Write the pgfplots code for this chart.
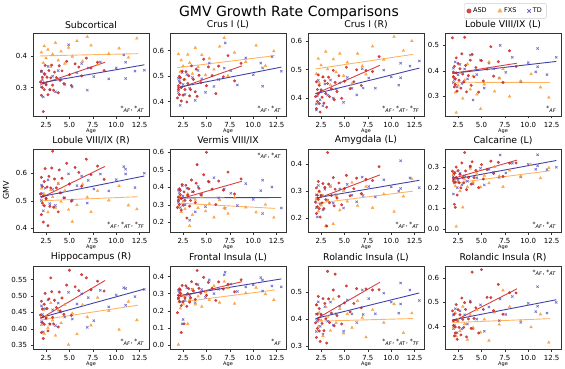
\documentclass[border=0pt]{standalone}
\usepackage{pgfplots}
\pgfplotsset{compat=1.18}
\usepackage{pgfplotstable}
\usepackage{fontspec}
\setmainfont{DejaVu Sans}

\definecolor{asd}{RGB}{200,35,35}
\definecolor{fxs}{RGB}{250,155,50}
\definecolor{td}{RGB}{90,90,195}
\definecolor{asdl}{RGB}{215,65,65}
\definecolor{fxsl}{RGB}{255,180,100}
\definecolor{tdl}{RGB}{65,65,170}

\pgfplotstableread[header=false]{
age 1.9 2.0 2.0 2.1 2.1 2.2 2.2 2.3 2.3 2.4 2.5 2.6 2.7 2.8 2.9 3.0 3.1 3.2 3.3 3.4 3.6 3.8 3.9 4.0 4.2 4.4 4.7 5.0 5.2 5.6 6.0 6.3 6.8 7.3 8.0 8.7
p1 0.318 0.276 0.352 0.300 0.333 0.225 0.315 0.344 0.294 0.370 0.309 0.333 0.278 0.354 0.294 0.331 0.371 0.308 0.292 0.349 0.332 0.284 0.369 0.323 0.353 0.313 0.383 0.341 0.307 0.375 0.365 0.337 0.393 0.362 0.380 0.354
p2 0.414 0.462 0.446 0.499 0.427 0.473 0.493 0.402 0.455 0.519 0.425 0.486 0.447 0.517 0.398 0.471 0.501 0.422 0.447 0.540 0.487 0.438 0.527 0.420 0.503 0.474 0.566 0.462 0.536 0.502 0.431 0.539 0.497 0.580 0.481 0.550
p3 0.405 0.457 0.363 0.430 0.388 0.481 0.415 0.381 0.445 0.351 0.429 0.403 0.474 0.382 0.460 0.416 0.368 0.451 0.473 0.405 0.432 0.497 0.394 0.455 0.423 0.478 0.399 0.459 0.508 0.433 0.457 0.499 0.444 0.497 0.493 0.545
p4 0.530 0.377 0.395 0.337 0.418 0.369 0.346 0.451 0.392 0.320 0.429 0.363 0.408 0.332 0.467 0.387 0.356 0.532 0.421 0.317 0.381 0.442 0.343 0.465 0.376 0.413 0.316 0.440 0.360 0.407 0.495 0.379 0.436 0.354 0.479 0.417
p5 0.525 0.450 0.585 0.492 0.552 0.423 0.518 0.570 0.482 0.617 0.508 0.550 0.410 0.589 0.480 0.547 0.619 0.680 0.477 0.579 0.547 0.460 0.612 0.529 0.582 0.511 0.636 0.561 0.499 0.621 0.603 0.553 0.651 0.595 0.626 0.578
p6 0.285 0.345 0.325 0.392 0.302 0.358 0.383 0.270 0.336 0.416 0.298 0.374 0.326 0.412 0.225 0.355 0.392 0.293 0.325 0.442 0.375 0.313 0.424 0.530 0.394 0.357 0.472 0.600 0.434 0.390 0.302 0.436 0.384 0.487 0.362 0.448
p7 0.260 0.312 0.218 0.285 0.243 0.336 0.270 0.236 0.300 0.205 0.284 0.257 0.328 0.236 0.314 0.269 0.172 0.442 0.326 0.257 0.284 0.350 0.246 0.307 0.275 0.330 0.250 0.310 0.358 0.283 0.309 0.348 0.291 0.344 0.339 0.390
p8 0.281 0.233 0.249 0.120 0.270 0.228 0.105 0.301 0.250 0.165 0.284 0.225 0.266 0.200 0.321 0.250 0.224 0.372 0.282 0.191 0.250 0.305 0.218 0.327 0.250 0.285 0.201 0.313 0.243 0.289 0.330 0.270 0.324 0.255 0.320 0.321
p9 0.442 0.389 0.484 0.419 0.461 0.371 0.438 0.475 0.414 0.508 0.433 0.462 0.394 0.491 0.415 0.555 0.513 0.435 0.415 0.487 0.465 0.406 0.512 0.455 0.494 0.444 0.533 0.578 0.441 0.528 0.516 0.565 0.555 0.519 0.545 0.515
p10 0.190 0.291 0.275 0.328 0.256 0.302 0.322 0.231 0.075 0.348 0.254 0.125 0.276 0.346 0.227 0.300 0.330 0.251 0.276 0.370 0.316 0.267 0.356 0.435 0.332 0.303 0.395 0.291 0.366 0.331 0.261 0.369 0.327 0.355 0.311 0.381
p11 0.387 0.454 0.333 0.420 0.366 0.485 0.400 0.357 0.440 0.318 0.419 0.385 0.477 0.358 0.459 0.402 0.312 0.578 0.476 0.388 0.423 0.509 0.376 0.568 0.414 0.485 0.383 0.461 0.524 0.428 0.459 0.514 0.443 0.513 0.509 0.510
p12 0.465 0.405 0.425 0.362 0.452 0.399 0.374 0.491 0.428 0.348 0.470 0.397 0.449 0.366 0.518 0.430 0.397 0.499 0.471 0.358 0.432 0.501 0.393 0.625 0.434 0.478 0.374 0.635 0.471 0.521 0.520 0.466 0.574 0.451 0.540 0.539
}\rawASD
\pgfplotstabletranspose[colnames from=0]{\tabASD}{\rawASD}

\pgfplotstableread[header=false]{
age 2.0 2.2 2.3 2.5 2.7 3.0 3.2 3.5 3.8 4.1 4.5 4.9 5.3 5.8 6.4 6.9 7.3 8.0 9.2 10.3 11.3 12.2
p1 0.411 0.378 0.431 0.393 0.420 0.366 0.405 0.441 0.386 0.414 0.376 0.426 0.398 0.447 0.383 0.460 0.433 0.373 0.407 0.424 0.395 0.455
p2 0.586 0.517 0.562 0.539 0.487 0.584 0.552 0.509 0.611 0.536 0.583 0.504 0.569 0.526 0.616 0.650 0.501 0.592 0.556 0.620 0.540 0.598
p3 0.485 0.538 0.454 0.515 0.474 0.563 0.501 0.446 0.536 0.491 0.556 0.478 0.525 0.451 0.556 0.512 0.483 0.581 0.535 0.615 0.566 0.600
p4 0.375 0.315 0.235 0.343 0.391 0.291 0.363 0.427 0.327 0.379 0.307 0.250 0.347 0.435 0.319 0.371 0.407 0.299 0.359 0.387 0.335 0.295
p5 0.545 0.485 0.524 0.504 0.459 0.540 0.514 0.475 0.563 0.497 0.537 0.468 0.425 0.485 0.560 0.513 0.460 0.536 0.502 0.554 0.484 0.470
p6 0.293 0.344 0.260 0.320 0.277 0.363 0.180 0.243 0.330 0.283 0.345 0.264 0.307 0.229 0.329 0.282 0.250 0.342 0.286 0.258 0.301 0.228
p7 0.270 0.226 0.298 0.248 0.285 0.172 0.266 0.316 0.180 0.282 0.230 0.301 0.263 0.332 0.247 0.288 0.317 0.239 0.289 0.225 0.281 0.345
p8 0.267 0.208 0.012 0.228 0.184 0.105 0.241 0.204 0.293 0.228 0.270 0.203 0.260 0.223 0.302 0.257 0.205 0.285 0.256 0.313 0.247 0.297
p9 0.412 0.458 0.386 0.438 0.403 0.479 0.426 0.380 0.456 0.418 0.474 0.352 0.447 0.384 0.473 0.436 0.411 0.495 0.455 0.398 0.483 0.427
p10 0.005 0.215 0.300 0.243 0.286 0.125 0.265 0.323 0.238 0.285 0.225 0.309 0.265 0.346 0.249 0.370 0.333 0.243 0.304 0.336 0.298 0.265
p11 0.453 0.373 0.425 0.397 0.338 0.446 0.410 0.358 0.475 0.387 0.439 0.348 0.420 0.369 0.469 0.406 0.334 0.435 0.388 0.457 0.350 0.423
p12 0.397 0.457 0.361 0.430 0.382 0.483 0.411 0.347 0.448 0.396 0.469 0.377 0.430 0.343 0.460 0.409 0.550 0.482 0.424 0.398 0.451 0.335
}\rawFXS
\pgfplotstabletranspose[colnames from=0]{\tabFXS}{\rawFXS}

\pgfplotstableread[header=false]{
age 2.0 2.0 2.1 2.2 2.4 2.5 2.7 2.9 3.2 3.5 3.8 4.1 4.5 4.9 5.3 5.8 6.3 6.9 7.0 7.6 8.3 9.2 10.0 10.8 11.0 11.0 12.0 13.0
p1 0.303 0.351 0.325 0.271 0.341 0.312 0.367 0.293 0.336 0.287 0.354 0.326 0.310 0.435 0.302 0.347 0.376 0.292 0.362 0.335 0.381 0.328 0.362 0.403 0.329 0.380 0.352 0.355
p2 0.491 0.435 0.480 0.385 0.514 0.467 0.428 0.506 0.452 0.494 0.404 0.522 0.489 0.436 0.551 0.459 0.486 0.531 0.630 0.521 0.465 0.571 0.505 0.551 0.460 0.532 0.576 0.519
p3 0.358 0.379 0.407 0.462 0.394 0.425 0.373 0.449 0.410 0.463 0.400 0.432 0.453 0.385 0.472 0.434 0.411 0.503 0.435 0.470 0.434 0.498 0.474 0.445 0.522 0.471 0.512 0.530
p4 0.354 0.410 0.366 0.435 0.336 0.384 0.425 0.350 0.407 0.368 0.462 0.285 0.385 0.442 0.332 0.430 0.408 0.371 0.500 0.394 0.453 0.357 0.432 0.396 0.488 0.416 0.385 0.453
p5 0.501 0.557 0.527 0.464 0.546 0.511 0.576 0.490 0.541 0.483 0.562 0.529 0.511 0.598 0.503 0.555 0.590 0.492 0.574 0.543 0.597 0.536 0.577 0.624 0.615 0.597 0.548 0.600
p6 0.385 0.315 0.370 0.285 0.410 0.350 0.300 0.395 0.212 0.375 0.260 0.405 0.360 0.290 0.430 0.455 0.340 0.390 0.280 0.366 0.296 0.421 0.331 0.381 0.250 0.440 0.402 0.282
p7 0.287 0.239 0.205 0.321 0.253 0.284 0.231 0.307 0.267 0.320 0.256 0.287 0.308 0.238 0.325 0.285 0.261 0.352 0.284 0.317 0.279 0.342 0.316 0.300 0.412 0.310 0.349 0.313
p8 0.170 0.255 0.223 0.275 0.201 0.238 0.270 0.215 0.259 0.232 0.303 0.219 0.249 0.295 0.214 0.290 0.276 0.251 0.360 0.272 0.320 0.253 0.314 0.290 0.361 0.307 0.289 0.300
p9 0.422 0.470 0.444 0.391 0.461 0.432 0.488 0.414 0.458 0.410 0.478 0.451 0.436 0.511 0.430 0.476 0.507 0.405 0.495 0.425 0.517 0.467 0.503 0.525 0.472 0.523 0.498 0.520
p10 0.320 0.271 0.310 0.252 0.125 0.150 0.266 0.335 0.289 0.326 0.248 0.353 0.324 0.279 0.380 0.301 0.326 0.410 0.425 0.356 0.313 0.340 0.352 0.394 0.316 0.379 0.345 0.340
p11 0.419 0.355 0.392 0.465 0.374 0.415 0.345 0.447 0.393 0.464 0.379 0.421 0.449 0.356 0.472 0.420 0.388 0.509 0.418 0.477 0.421 0.497 0.464 0.423 0.535 0.457 0.509 0.470
p12 0.392 0.448 0.405 0.474 0.375 0.424 0.465 0.391 0.449 0.411 0.506 0.392 0.431 0.490 0.381 0.481 0.460 0.425 0.514 0.450 0.524 0.418 0.496 0.462 0.565 0.484 0.456 0.500
}\rawTD
\pgfplotstabletranspose[colnames from=0]{\tabTD}{\rawTD}

\pgfplotsset{
  panel/.style={
    scale only axis, width=116pt, height=83pt, anchor=north west,
    xmin=1.1, xmax=13.5, xtick={2.5,5,7.5,10,12.5},
    /pgf/number format/assume math mode=true,
    xticklabel style={/pgf/number format/fixed, /pgf/number format/fixed zerofill, /pgf/number format/precision=1},
    yticklabel style={/pgf/number format/fixed, /pgf/number format/fixed zerofill, /pgf/number format/precision=1},
    tick label style={font=\fontsize{7}{8}\selectfont},
    xlabel={Age}, xlabel style={font=\fontsize{5}{6}\selectfont, yshift=5pt},
    title style={font=\fontsize{9.3}{10}\selectfont, yshift=-5pt},
    axis line style={black!80, line width=0.9pt},
    tick style={black!80, line width=0.6pt},
    tick align=outside, tick pos=left, major tick length=2.5pt,
  },
  asdm/.style={only marks, mark=*, mark size=1.3pt, color=asd, mark options={fill=asd, opacity=0.8}, forget plot},
  fxsm/.style={only marks, mark=triangle*, mark size=1.6pt, color=fxs, mark options={fill=fxs, opacity=0.8}, forget plot},
  tdm/.style={only marks, mark=x, mark size=1.6pt, color=td, mark options={line width=0.7pt, opacity=0.85}, forget plot},
}
\tikzset{anno/.style={font=\fontsize{6}{7}\selectfont, inner sep=1pt}}
\newcommand{\st}[1]{*\textsubscript{\textit{#1}}}
\newcommand{\scat}[1]{%
  \addplot[tdm] table[x=age,y=#1]{\tabTD};
  \addplot[fxsm] table[x=age,y=#1]{\tabFXS};
  \addplot[asdm] table[x=age,y=#1]{\tabASD};}
\newcommand{\fits}[6]{%
  \addplot[asdl, line width=0.9pt, forget plot] coordinates {(1.9,#1) (8.8,#2)};
  \addplot[fxsl, line width=0.9pt, forget plot] coordinates {(1.9,#3) (12.3,#4)};
  \addplot[tdl, line width=0.9pt, forget plot] coordinates {(1.9,#5) (13,#6)};}

\begin{document}
\begin{tikzpicture}
\path[use as bounding box] (0,0) rectangle (565pt,368pt);

% Row 1
\begin{axis}[panel, at={(33pt,335pt)}, title={Subcortical}, ymin=0.211, ymax=0.472, ytick={0.3,0.4}]
\scat{p1}
\fits{0.310}{0.380}{0.400}{0.407}{0.315}{0.372}
\node[anno,anchor=south east] at (rel axis cs:0.97,0.03) {\st{AF}, \st{AT}};
\end{axis}

\begin{axis}[panel, at={(170pt,335pt)}, title={Crus I (L)}, ymin=0.343, ymax=0.669, ytick={0.4,0.5,0.6}]
\scat{p2}
\fits{0.450}{0.540}{0.533}{0.580}{0.455}{0.535}
\node[anno,anchor=south east] at (rel axis cs:0.97,0.03) {\st{AF}, \st{AT}};
\end{axis}

\begin{axis}[panel, at={(308pt,335pt)}, title={Crus I (R)}, ymin=0.337, ymax=0.628, ytick={0.4,0.5,0.6}]
\scat{p3}
\fits{0.415}{0.515}{0.502}{0.553}{0.415}{0.505}
\node[anno,anchor=south east] at (rel axis cs:0.97,0.03) {\st{AF}, \st{AT}, \st{TF}};
\end{axis}

\begin{axis}[panel, at={(445pt,335pt)}, title={Lobule VIII/IX (L)}, ymin=0.222, ymax=0.549, ytick={0.3,0.4,0.5},
  legend style={at={(0.52,1.36)}, anchor=north, legend columns=3, font=\fontsize{6.5}{7}\selectfont,
    draw=black!20, rounded corners=1.5pt, inner sep=2.5pt,
    /tikz/every even column/.append style={column sep=9pt}}]
\addlegendimage{only marks, mark=*, mark size=2.2pt, color=asd, mark options={fill=asd, opacity=0.8}}
\addlegendimage{only marks, mark=triangle*, mark size=2.5pt, color=fxs, mark options={fill=fxs, opacity=0.8}}
\addlegendimage{only marks, mark=x, mark size=2.5pt, color=td, mark options={line width=0.7pt}}
\scat{p4}
\fits{0.390}{0.430}{0.355}{0.354}{0.390}{0.437}
\node[anno,anchor=south east] at (rel axis cs:0.97,0.03) {\st{AF}};
\legend{ASD,FXS,TD}
\end{axis}

% Row 2
\begin{axis}[panel, at={(33pt,219pt)}, title={Lobule VIII/IX (R)}, ymin=0.387, ymax=0.688, ytick={0.4,0.5,0.6},
  ylabel={GMV}, ylabel style={font=\fontsize{8}{9}\selectfont}]
\scat{p5}
\fits{0.510}{0.625}{0.500}{0.515}{0.515}{0.590}
\node[anno,anchor=south east] at (rel axis cs:0.97,0.03) {\st{AF}, \st{AT}, \st{TF}};
\end{axis}

\begin{axis}[panel, at={(170pt,219pt)}, title={Vermis VIII/IX}, ymin=0.145, ymax=0.619, ytick={0.2,0.3,0.4,0.5,0.6}]
\scat{p6}
\fits{0.330}{0.435}{0.310}{0.280}{0.340}{0.342}
\node[anno,anchor=north east] at (rel axis cs:0.97,0.97) {\st{AF}, \st{AT}};
\end{axis}

\begin{axis}[panel, at={(308pt,219pt)}, title={Amygdala (L)}, ymin=0.150, ymax=0.455, ytick={0.2,0.3,0.4}]
\scat{p7}
\fits{0.270}{0.360}{0.255}{0.300}{0.275}{0.340}
\node[anno,anchor=south east] at (rel axis cs:0.97,0.03) {\st{AF}, \st{AT}};
\end{axis}

\begin{axis}[panel, at={(445pt,219pt)}, title={Calcarine (L)}, ymin=-0.015, ymax=0.389, ytick={0,0.1,0.2,0.3}]
\scat{p8}
\fits{0.245}{0.335}{0.222}{0.283}{0.240}{0.333}
\node[anno,anchor=south east] at (rel axis cs:0.97,0.03) {\st{AF}, \st{AT}};
\end{axis}

% Row 3
\begin{axis}[panel, at={(33pt,102pt)}, title={Hippocampus (R)}, ymin=0.339, ymax=0.591, ytick={0.35,0.40,0.45,0.50,0.55},
  yticklabel style={/pgf/number format/precision=2}]
\scat{p9}
\fits{0.431}{0.547}{0.427}{0.472}{0.434}{0.521}
\node[anno,anchor=south east] at (rel axis cs:0.97,0.03) {\st{AF}, \st{AT}};
\end{axis}

\begin{axis}[panel, at={(170pt,102pt)}, title={Frontal Insula (L)}, ymin=-0.021, ymax=0.461, ytick={0,0.1,0.2,0.3,0.4}]
\scat{p10}
\fits{0.279}{0.370}{0.249}{0.322}{0.288}{0.386}
\node[anno,anchor=south east] at (rel axis cs:0.97,0.03) {\st{AF}};
\end{axis}

\begin{axis}[panel, at={(308pt,102pt)}, title={Rolandic Insula (L)}, ymin=0.290, ymax=0.598, ytick={0.3,0.4,0.5}]
\scat{p11}
\fits{0.400}{0.538}{0.393}{0.403}{0.403}{0.498}
\node[anno,anchor=south east] at (rel axis cs:0.97,0.03) {\st{AF}, \st{AT}, \st{TF}};
\end{axis}

\begin{axis}[panel, at={(445pt,102pt)}, title={Rolandic Insula (R)}, ymin=0.308, ymax=0.650, ytick={0.4,0.5,0.6}]
\scat{p12}
\fits{0.420}{0.556}{0.417}{0.433}{0.428}{0.511}
\node[anno,anchor=north east] at (rel axis cs:0.97,0.97) {\st{AF}, \st{AT}};
\end{axis}

\node[font=\fontsize{14}{16}\selectfont] at (289pt,355pt) {GMV Growth Rate Comparisons};
\end{tikzpicture}
\end{document}
